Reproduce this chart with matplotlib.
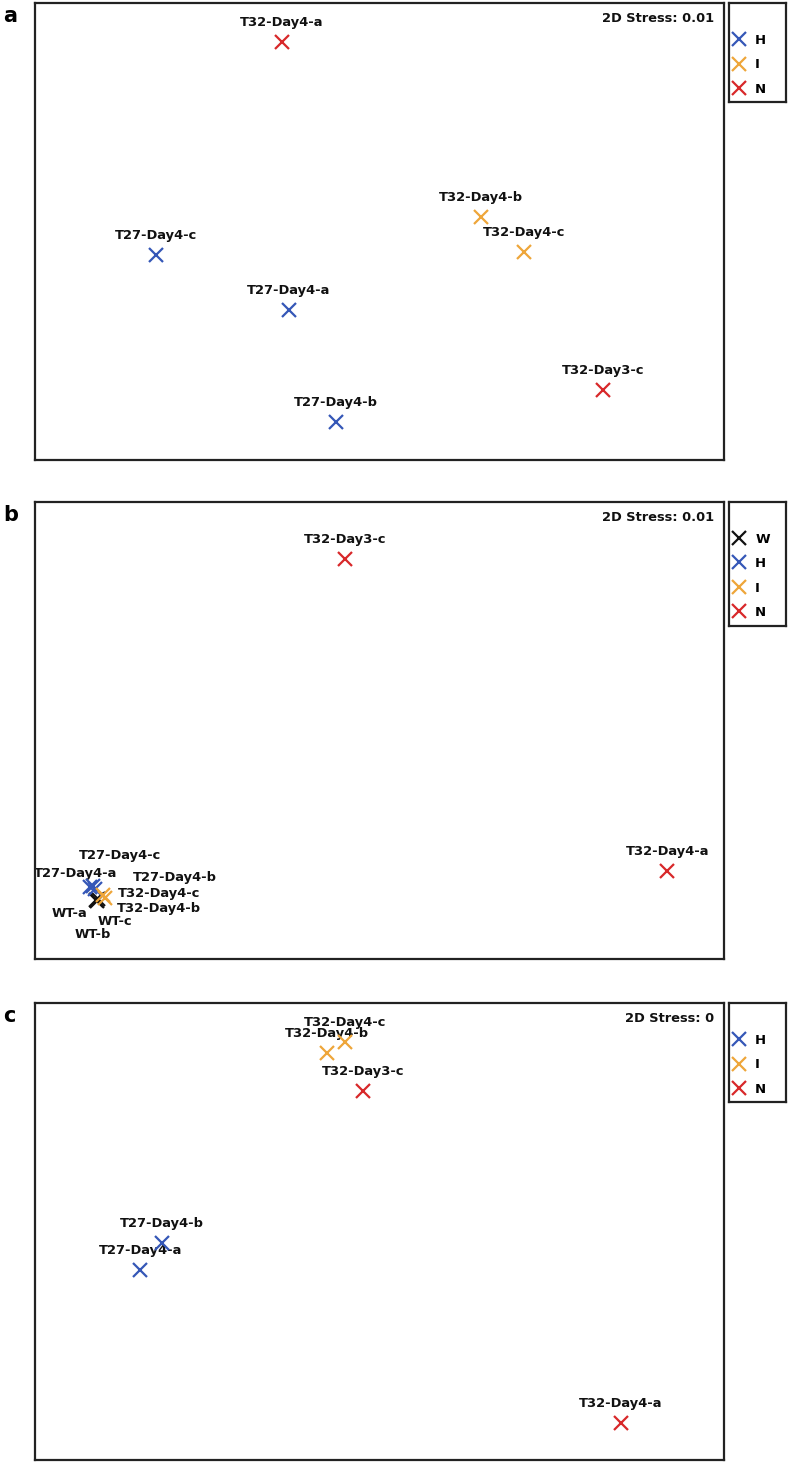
import matplotlib
matplotlib.use("Agg")
import matplotlib.pyplot as plt
from matplotlib.lines import Line2D

# --------------------------
# NMDS coordinates
# --------------------------
a_samples = ["T32-Day4-a", "T32-Day4-b", "T32-Day4-c", "T27-Day4-c",
             "T27-Day4-a", "T27-Day4-b", "T32-Day3-c"]
a_groups = ["N", "I", "I", "H", "H", "H", "N"]
a_mds1 = [-0.283, 0.295, 0.419, -0.649, -0.263, -0.126, 0.649]
a_mds2 = [0.829, 0.063, -0.090, -0.103, -0.344, -0.834, -0.694]
a_stress = "0.01"

b_samples = ["T32-Day3-c", "T32-Day4-a", "WT-a", "WT-b", "WT-c",
             "T27-Day4-a", "T27-Day4-b", "T27-Day4-c", "T32-Day4-b", "T32-Day4-c"]
b_groups = ["N", "N", "W", "W", "W", "H", "H", "H", "I", "I"]
b_mds1 = [-0.100, 0.835, -0.823, -0.820, -0.817, -0.840, -0.826, -0.832, -0.797, -0.803]
b_mds2 = [0.751, -0.615, -0.742, -0.746, -0.738, -0.685, -0.694, -0.681, -0.733, -0.720]
b_stress = "0.01"

c_samples = ["T32-Day4-c", "T32-Day4-b", "T32-Day3-c", "T27-Day4-b",
             "T27-Day4-a", "T32-Day4-a"]
c_groups = ["I", "I", "N", "H", "H", "N"]
c_mds1 = [-0.100, -0.152, -0.048, -0.631, -0.695, 0.701]
c_mds2 = [0.829, 0.781, 0.615, -0.050, -0.168, -0.838]
c_stress = "0"

# --------------------------
# styling
# --------------------------
W, H = 789, 1463
colors = {"W": "#111111", "H": "#3557b7", "I": "#eea63a", "N": "#d8282a"}
FONT = "DejaVu Sans"
LABEL_SIZE = 9.4

# label offsets in pixels (default: just above the marker); crowded cluster in b
default_off = (0, 16)
b_offsets = {"T27-Day4-c": (27, 27), "T27-Day4-a": (-15, 10), "T27-Day4-b": (80, 8),
             "T32-Day4-c": (56, -2), "T32-Day4-b": (54, -14),
             "WT-a": (-26, -17), "WT-c": (17, -26), "WT-b": (-4, -37)}


def px_rect(x0, y0, x1, y1):
    return [x0 / W, 1 - y1 / H, (x1 - x0) / W, (y1 - y0) / H]


def draw_panel(fig, rect, leg_rect, letter, samples, groups, mds1, mds2, stress,
               legend_groups, offsets=None):
    ax = fig.add_axes(px_rect(*rect))
    ax.set_xlim(-1, 1)
    ax.set_ylim(-1, 1)
    ax.set_xticks([])
    ax.set_yticks([])
    for s in ax.spines.values():
        s.set_linewidth(1.6)
        s.set_color("#222222")

    for name, g, x, y in zip(samples, groups, mds1, mds2):
        ax.plot(x, y, marker="x", ms=10, mew=1.6, color=colors[g],
                linestyle="none", zorder=3)
        off = default_off
        if offsets and name in offsets:
            off = offsets[name]
        ax.annotate(name, (x, y), xytext=off, textcoords="offset pixels",
                    ha="center", va="baseline", fontsize=LABEL_SIZE,
                    fontweight="bold", family=FONT, color="#111111", zorder=2)

    ax.text(0.985, 0.967, "2D Stress: " + stress, transform=ax.transAxes,
            ha="right", va="center", fontsize=LABEL_SIZE, fontweight="bold",
            family=FONT, color="#111111")

    # panel letter
    fig.text((rect[0] - 32) / W, 1 - (rect[1] + 19) / H, letter,
             fontsize=15, fontweight="bold", family=FONT, ha="left", va="baseline")

    # legend in its own framed box
    lax = fig.add_axes(px_rect(*leg_rect))
    lax.set_xticks([])
    lax.set_yticks([])
    for s in lax.spines.values():
        s.set_linewidth(1.6)
        s.set_color("#222222")
    handles = [Line2D([], [], marker="x", ms=10, mew=1.6, color=colors[g],
                      linestyle="none") for g in legend_groups]
    lax.legend(handles, legend_groups, loc="lower left", bbox_to_anchor=(0.0, 0.035),
               frameon=False, borderaxespad=0, borderpad=0.2, handlelength=1.1,
               handletextpad=0.68, labelspacing=0.87,
               prop={"family": FONT, "weight": "bold", "size": 9.5})
    return ax


fig = plt.figure(figsize=(W / 100, H / 100), dpi=100)

draw_panel(fig, (35, 3, 724, 460), (729, 3, 786, 102), "a",
           a_samples, a_groups, a_mds1, a_mds2, a_stress, ["H", "I", "N"])
draw_panel(fig, (35, 502, 724, 959), (729, 502, 786, 626), "b",
           b_samples, b_groups, b_mds1, b_mds2, b_stress, ["W", "H", "I", "N"],
           offsets=b_offsets)
draw_panel(fig, (35, 1003, 724, 1460), (729, 1003, 786, 1102), "c",
           c_samples, c_groups, c_mds1, c_mds2, c_stress, ["H", "I", "N"])

fig.savefig("out.png", dpi=100, facecolor="white")
